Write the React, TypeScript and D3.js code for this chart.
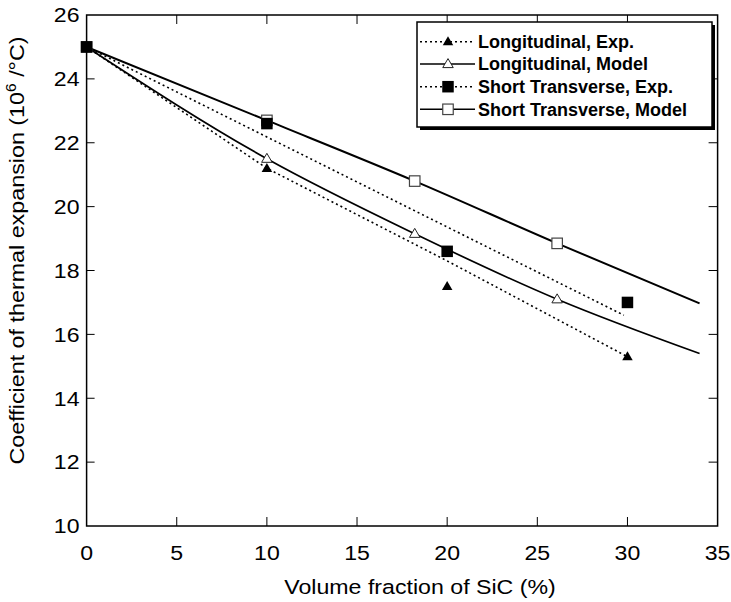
import React from "react";
import * as d3 from "d3";

// ---- data ----
const xTicks = [0, 5, 10, 15, 20, 25, 30, 35];
const yTicks = [10, 12, 14, 16, 18, 20, 22, 24, 26];

const longExpX = [0, 10, 20, 30];
const longExpY = [25, 21.2, 17.5, 15.3];
const longExpFitX = [0, 10, 20, 30];
const longExpFitY = [25, 21.2, 18.3, 15.3];

const longModelX = [0, 10, 18.2, 26.1, 34];
const longModelY = [25, 21.5, 19.15, 17.1, 15.4];
const longModelMarkX = [0, 10, 18.2, 26.1];
const longModelMarkY = [25, 21.5, 19.15, 17.1];

const stExpX = [0, 10, 20, 30];
const stExpY = [25, 22.6, 18.6, 17.0];
const stExpFitX = [0, 29.8];
const stExpFitY = [25, 16.6];

const stModelX = [0, 10, 18.2, 26.1, 34];
const stModelY = [25, 22.7, 20.8, 18.85, 16.97];
const stModelMarkX = [0, 10, 18.2, 26.1];
const stModelMarkY = [25, 22.7, 20.8, 18.85];

const legendLabels = [
  "Longitudinal, Exp.",
  "Longitudinal, Model",
  "Short Transverse, Exp.",
  "Short Transverse, Model",
];

const FONT = "'Liberation Sans', Arial, Helvetica, sans-serif";

const L = 86.6, R = 717.6, T = 15, B = 526;
const x = d3.scaleLinear().domain([0, 35]).range([L, R]);
const y = d3.scaleLinear().domain([10, 26]).range([B, T]);

type MarkerKind = "triFilled" | "triOpen" | "sqFilled" | "sqOpen";

function Marker({ cx, cy, kind }: { cx: number; cy: number; kind: MarkerKind }) {
  if (kind === "triFilled" || kind === "triOpen") {
    const w = 10.5, h = 9;
    const p = `M${cx},${cy - h * 0.6} L${cx + w / 2},${cy + h * 0.4} L${cx - w / 2},${cy + h * 0.4} Z`;
    return kind === "triFilled" ? (
      <path d={p} fill="#000" />
    ) : (
      <path d={p} fill="#fff" stroke="#222" strokeWidth={1} />
    );
  }
  if (kind === "sqFilled") {
    const s = 11.5;
    return <rect x={cx - s / 2} y={cy - s / 2} width={s} height={s} fill="#000" />;
  }
  const s = 10.5;
  return <rect x={cx - s / 2} y={cy - s / 2} width={s} height={s} fill="#fff" stroke="#444" strokeWidth={1.2} />;
}

const lineLin = d3.line<[number, number]>().x((d) => x(d[0])).y((d) => y(d[1]));
const lineCurve = d3
  .line<[number, number]>()
  .x((d) => x(d[0]))
  .y((d) => y(d[1]))
  .curve(d3.curveMonotoneX);

const zip = (a: number[], b: number[]) => a.map((v, i) => [v, b[i]] as [number, number]);

const SX = 1.1; // horizontal stretch of the lettering

export default function App() {
  const dotted = "2 3";
  const legX = 417, legY = 22, legW = 295, legH = 105;
  const rowY = [41.7, 64, 86.7, 109.3];
  const legKinds: MarkerKind[] = ["triFilled", "triOpen", "sqFilled", "sqOpen"];
  const legDash = [dotted, undefined, dotted, undefined];

  return (
    <svg
      width={731}
      height={602}
      style={{ position: "absolute", left: 0, top: 0, background: "#fff" }}
      fontFamily={FONT}
    >
      <rect x={0} y={0} width={731} height={602} fill="#fff" />

      {/* series lines */}
      <path d={lineLin(zip(longExpFitX, longExpFitY)) || ""} fill="none" stroke="#000" strokeWidth={1.6} strokeDasharray={dotted} />
      <path d={lineLin(zip(stExpFitX, stExpFitY)) || ""} fill="none" stroke="#000" strokeWidth={1.6} strokeDasharray={dotted} />
      <path d={lineCurve(zip(longModelX, longModelY)) || ""} fill="none" stroke="#000" strokeWidth={1.7} />
      <path d={lineCurve(zip(stModelX, stModelY)) || ""} fill="none" stroke="#000" strokeWidth={2} />

      {/* markers */}
      {longModelMarkX.map((v, i) => (
        <Marker key={"lm" + i} cx={x(v)} cy={y(longModelMarkY[i])} kind="triOpen" />
      ))}
      {stModelMarkX.map((v, i) => (
        <Marker key={"sm" + i} cx={x(v)} cy={y(stModelMarkY[i])} kind="sqOpen" />
      ))}
      {longExpX.map((v, i) => (
        <Marker key={"le" + i} cx={x(v)} cy={y(longExpY[i])} kind="triFilled" />
      ))}
      {stExpX.map((v, i) => (
        <Marker key={"se" + i} cx={x(v)} cy={y(stExpY[i])} kind="sqFilled" />
      ))}

      {/* frame */}
      <rect x={L} y={T} width={R - L} height={B - T} fill="none" stroke="#000" strokeWidth={1.5} />

      {/* ticks */}
      {xTicks.slice(1, -1).map((t) => (
        <g key={"xt" + t}>
          <line x1={x(t)} x2={x(t)} y1={B} y2={B - 9} stroke="#000" strokeWidth={1} />
          <line x1={x(t)} x2={x(t)} y1={T} y2={T + 9} stroke="#000" strokeWidth={1} />
        </g>
      ))}
      {yTicks.slice(1, -1).map((t) => (
        <g key={"yt" + t}>
          <line x1={L} x2={L + 8} y1={y(t)} y2={y(t)} stroke="#000" strokeWidth={1} />
          <line x1={R} x2={R - 9} y1={y(t)} y2={y(t)} stroke="#000" strokeWidth={1} />
        </g>
      ))}

      {/* tick labels */}
      {xTicks.map((t) => (
        <text
          key={"xl" + t}
          transform={`translate(${x(t)},560) scale(${SX},1)`}
          textAnchor="middle"
          fontSize={21}
          fill="#000"
        >
          {t}
        </text>
      ))}
      {yTicks.map((t) => (
        <text
          key={"yl" + t}
          transform={`translate(79.5,${y(t) + 7.3}) scale(${SX},1)`}
          textAnchor="end"
          fontSize={21}
          fill="#000"
        >
          {t}
        </text>
      ))}

      {/* axis titles */}
      <text
        transform={`translate(420,594) scale(1.13,1)`}
        textAnchor="middle"
        fontSize={20.5}
        fill="#000"
      >
        Volume fraction of SiC (%)
      </text>
      <text
        transform={`translate(24,250.5) rotate(-90) scale(1.11,1)`}
        textAnchor="middle"
        fontSize={21}
        fill="#000"
      >
        Coefficient of thermal expansion (10
        <tspan fontSize={14} dy={-8}>6</tspan>
        <tspan dy={8}> /°C)</tspan>
      </text>

      {/* legend */}
      <rect x={legX + 3} y={legY + 3} width={legW} height={legH} fill="#000" />
      <rect x={legX} y={legY} width={legW} height={legH} fill="#fff" stroke="#000" strokeWidth={1.5} />
      {legendLabels.map((lab, i) => (
        <g key={"lg" + i}>
          <line
            x1={420}
            x2={475}
            y1={rowY[i]}
            y2={rowY[i]}
            stroke="#000"
            strokeWidth={1.5}
            strokeDasharray={legDash[i]}
          />
          <Marker cx={448} cy={rowY[i]} kind={legKinds[i]} />
          <text
            transform={`translate(478,${rowY[i] + 6.4}) scale(1.0,1)`}
            fontSize={18}
            fontWeight="bold"
            fill="#000"
          >
            {lab}
          </text>
        </g>
      ))}
    </svg>
  );
}
